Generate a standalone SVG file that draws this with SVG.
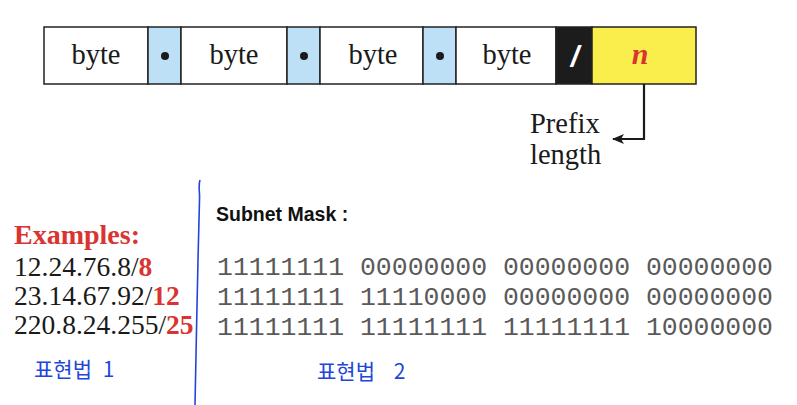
<svg xmlns="http://www.w3.org/2000/svg" width="797" height="405" viewBox="0 0 797 405">
<style>
.cell{stroke:#222;stroke-width:1.5}
.w{fill:#fff}
.b{fill:#bde0f6}
.serif{font-family:"Liberation Serif","Times New Roman",serif}
.byte{font-size:28.5px;fill:#1a1a1a;text-anchor:middle}
.ex{font-size:27.5px;fill:#1a1a1a}
.red{fill:#d93431;font-weight:bold}
.bin{font-family:"Liberation Mono","Courier New",monospace;font-size:26px;fill:#5a5a5a}
.hand{font-family:"Noto Sans CJK KR",sans-serif;font-size:21px;fill:#2346d8;font-weight:400}
</style>
<defs>
<marker id="ah" markerWidth="12" markerHeight="10" refX="11" refY="5" orient="auto" markerUnits="userSpaceOnUse">
<path d="M0,0 L12,5 L0,10 L3,5 Z" fill="#1a1a1a"/>
</marker>
</defs>
<g id="address">
<g id="byte1"><rect class="cell w" x="44" y="27" width="104" height="57"/><text class="serif byte" x="96" y="64">byte</text></g>
<g id="dot1"><rect class="cell b" x="148" y="27" width="33" height="57"/><circle cx="165" cy="56" r="4" fill="#1a1a1a"/></g>
<g id="byte2"><rect class="cell w" x="181" y="27" width="106" height="57"/><text class="serif byte" x="234" y="64">byte</text></g>
<g id="dot2"><rect class="cell b" x="287" y="27" width="33" height="57"/><circle cx="304" cy="56" r="4" fill="#1a1a1a"/></g>
<g id="byte3"><rect class="cell w" x="320" y="27" width="103" height="57"/><text class="serif byte" x="373" y="64">byte</text></g>
<g id="dot3"><rect class="cell b" x="423" y="27" width="33" height="57"/><circle cx="440" cy="56" r="4" fill="#1a1a1a"/></g>
<g id="byte4"><rect class="cell w" x="456" y="27" width="100" height="57"/><text class="serif byte" x="507" y="64">byte</text></g>
<g id="slash"><rect class="cell" fill="#1c1c1c" x="556" y="27" width="36" height="57"/><text x="575" y="67" font-family="Liberation Sans,Arial,sans-serif" font-size="30" font-weight="bold" font-style="italic" fill="#fff" text-anchor="middle">/</text></g>
<g id="prefix"><rect class="cell" fill="#f9ee4c" x="592" y="27" width="104" height="57"/><text class="serif" x="640" y="64" font-size="30" font-weight="bold" font-style="italic" fill="#d93431" text-anchor="middle">n</text></g>
</g>
<g id="prefix-label">
<text class="serif" x="530" y="133" font-size="28.5" fill="#1a1a1a">Prefix</text>
<text class="serif" x="530" y="164" font-size="28.5" fill="#1a1a1a">length</text>
</g>
<g id="connectors">
<path d="M644,84 V139 H613" fill="none" stroke="#1a1a1a" stroke-width="2.2" marker-end="url(#ah)"/>
<path d="M200,180 C198,186 200,192 199.5,200 L198,260 L196.5,330 L195,405" fill="none" stroke="#2346d8" stroke-width="1.6"/>
</g>
<g id="examples">
<text class="serif red" x="14" y="244" font-size="28">Examples:</text>
<text class="serif ex" x="14" y="276">12.24.76.8/<tspan class="red">8</tspan></text>
<text class="serif ex" x="14" y="305">23.14.67.92/<tspan class="red">12</tspan></text>
<text class="serif ex" x="14" y="334">220.8.24.255/<tspan class="red">25</tspan></text>
<text class="hand" x="34" y="377">표현법 <tspan dx="6">1</tspan></text>
</g>
<g id="mask">
<text x="216" y="221" font-family="Liberation Sans,Arial,sans-serif" font-size="19.5" font-weight="bold" fill="#111">Subnet Mask :</text>
<text class="bin" x="217" y="275" textLength="556" lengthAdjust="spacingAndGlyphs">11111111 00000000 00000000 00000000</text>
<text class="bin" x="217" y="305" textLength="556" lengthAdjust="spacingAndGlyphs">11111111 11110000 00000000 00000000</text>
<text class="bin" x="217" y="335" textLength="556" lengthAdjust="spacingAndGlyphs">11111111 11111111 11111111 10000000</text>
<text class="hand" x="317" y="379">표현법 <tspan dx="14">2</tspan></text>
</g>
</svg>
